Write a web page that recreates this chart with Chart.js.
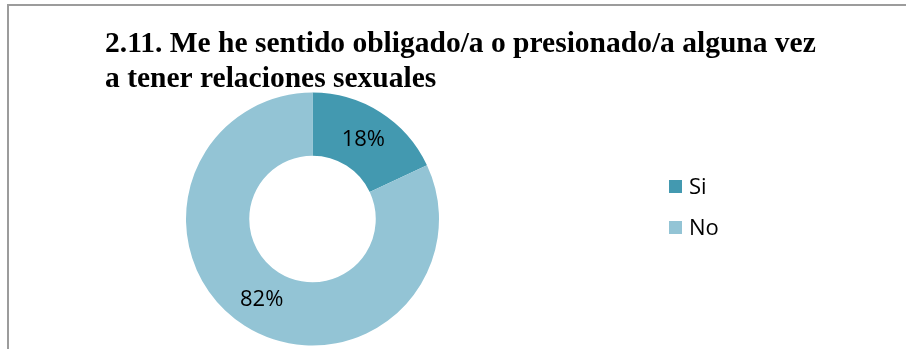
<!DOCTYPE html>
<html lang="es">
<head>
    <meta charset="UTF-8">
    <title>2.11. Me he sentido obligado/a o presionado/a alguna vez a tener relaciones sexuales</title>
    <script src="https://cdn.jsdelivr.net/npm/chart.js"></script>
    <style>
        body { margin: 0; background: #fff; }
        .marco {
            position: absolute; left: 7px; top: 4px; width: 905px; height: 350px;
            border-left: 2px solid #9c9c9c; border-top: 2px solid #9c9c9c;
        }
        canvas { position: absolute; left: 0; top: 0; }
    </style>
</head>
<body>
    <div class="marco"></div>
    <canvas id="grafico" width="906" height="349"></canvas>

    <script>
        // Datos del gráfico
        const titulo = ['2.11. Me he sentido obligado/a o presionado/a alguna vez', 'a tener relaciones sexuales'];
        const categorias = ['Si', 'No'];
        const porcentajes = [18, 82];
        const colores = ['#4399B0', '#93C4D5'];

        // Título, etiquetas de porcentaje y leyenda dibujados a mano
        const extras = {
            id: 'extras',
            afterDatasetsDraw(chart) {
                const ctx = chart.ctx;
                ctx.save();
                // título
                ctx.fillStyle = '#000';
                ctx.font = 'bold 29.5px "Liberation Serif"';
                ctx.textAlign = 'left';
                ctx.textBaseline = 'alphabetic';
                ctx.fillText(titulo[0], 105, 52);
                ctx.fillText(titulo[1], 105, 87);

                // porcentajes en cada sector
                const meta = chart.getDatasetMeta(0);
                ctx.font = '22px "Open Sans"';
                ctx.textAlign = 'center';
                ctx.textBaseline = 'middle';
                meta.data.forEach((arco, i) => {
                    const pos = arco.tooltipPosition();
                    ctx.fillText(porcentajes[i] + '%', pos.x, pos.y + 1);
                });

                // leyenda
                ctx.textAlign = 'left';
                categorias.forEach((cat, i) => {
                    const y = 187 + i * 41;
                    ctx.fillStyle = colores[i];
                    ctx.fillRect(669, y - 7, 13, 13);
                    ctx.fillStyle = '#000';
                    ctx.fillText(cat, 689, y + 1);
                });
                ctx.restore();
            }
        };

        new Chart(document.getElementById('grafico'), {
            type: 'doughnut',
            data: {
                labels: categorias,
                datasets: [{
                    data: porcentajes,
                    backgroundColor: colores,
                    borderWidth: 0,
                    hoverOffset: 0
                }]
            },
            options: {
                responsive: false,
                animation: false,
                events: [],
                cutout: '50%',
                layout: { padding: { left: 186, top: 92.5, right: 467, bottom: 3.5 } },
                plugins: {
                    legend: { display: false },
                    tooltip: { enabled: false },
                    title: { display: false }
                }
            },
            plugins: [extras]
        });
    </script>
</body>
</html>
